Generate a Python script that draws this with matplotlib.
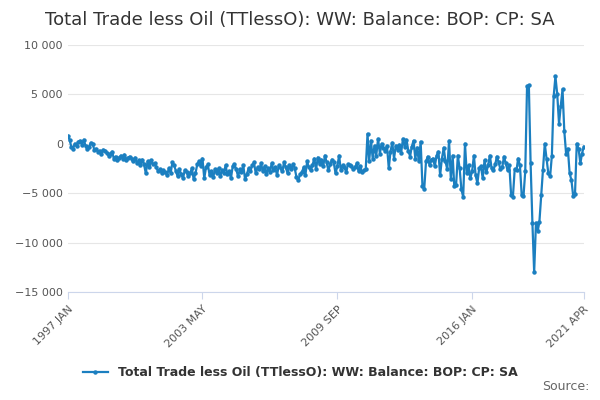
import matplotlib

matplotlib.use("Agg")
import matplotlib.pyplot as plt
import pandas as pd

plt.rcParams["font.family"] = ["DejaVu Sans"]

SERIES_NAME = "Total Trade less Oil (TTlessO): WW: Balance: BOP: CP: SA"

# monthly values, 1997 JAN .. 2021 APR
y1997 = [800, 400, -300, -500, 0, -200, 200, 300, -100, 400, -200, -500]
y1998 = [-300, 100, 0, -600, -500, -800, -700, -1000, -600, -700, -900, -1200]
y1999 = [-1000, -800, -1500, -1300, -1700, -1400, -1200, -1500, -1100, -1600, -1400, -1300]
y2000 = [-1500, -1800, -1400, -2000, -1700, -2200, -1600, -2100, -3000, -1800, -2400, -1700]
y2001 = [-2100, -2000, -2400, -2800, -2600, -3000, -2700, -2900, -3200, -2500, -3000, -1900]
y2002 = [-2200, -2800, -3300, -2600, -3100, -3500, -2700, -2900, -3300, -3000, -2500, -3600]
y2003 = [-3000, -2100, -1800, -2300, -1500, -3500, -2400, -2100, -3200, -2800, -3400, -2600]
y2004 = [-3000, -2500, -3300, -2700, -3000, -2200, -3100, -2800, -3500, -2300, -2100, -2600]
y2005 = [-3300, -2600, -2900, -2200, -3600, -3100, -2500, -2800, -2200, -1900, -3000, -2400]
y2006 = [-2600, -2000, -2800, -2300, -3100, -2500, -2900, -2000, -2700, -2400, -3200, -2200]
y2007 = [-2500, -2800, -1900, -2400, -3000, -2200, -2600, -2100, -2500, -3400, -3700, -3100]
y2008 = [-2900, -2400, -3200, -1800, -2400, -2700, -2200, -1500, -2600, -1400, -2100, -1600]
y2009 = [-2300, -1200, -1900, -2700, -2100, -1600, -1900, -3000, -2300, -1200, -2700, -2200]
y2010 = [-2400, -2900, -2100, -2200, -2300, -2600, -2400, -2000, -2800, -2300, -2900, -2700]
y2011 = [-2600, 1000, -1800, 300, -1500, -200, -1200, 500, -1000, 0, -400, -700]
y2012 = [-200, -2500, -800, 100, -1500, -200, -600, -100, -900, 500, -300, 400]
y2013 = [-700, -1300, -300, 300, -1500, -400, -1800, 200, -4300, -4600, -1800, -1300]
y2014 = [-2200, -1600, -1500, -2300, -1200, -800, -3200, -1500, -400, -1800, -2600, 300]
y2015 = [-3600, -1200, -4300, -4200, -1200, -2500, -4600, -5400, 0, -3000, -2200, -3500]
y2016 = [-2800, -1200, -3200, -4000, -2500, -2300, -3500, -1700, -2900, -2200, -1200, -2500]
y2017 = [-2700, -2100, -1300, -1900, -2600, -2400, -1300, -2000, -2700, -2200, -5200, -5400]
y2018 = [-2600, -2700, -1500, -2200, -5200, -5300, -2800, 5800, 5900, -2000, -8000, -13000]
y2019 = [-8000, -8800, -7900, -5200, -2700, 0, -1500, -3000, -3300, -1200, 4800, 6800]
y2020 = [5000, 2000, 3800, 5500, 1300, -1000, -500, -3000, -3700, -5300, -5100, 0]
y2021 = [-500, -2000, -1000, -300]

values = (y1997 + y1998 + y1999 + y2000 + y2001 + y2002 + y2003 + y2004 + y2005
          + y2006 + y2007 + y2008 + y2009 + y2010 + y2011 + y2012 + y2013
          + y2014 + y2015 + y2016 + y2017 + y2018 + y2019 + y2020 + y2021)
dates = pd.date_range("1997-01-01", periods=len(values), freq="MS")

tick_dates = ["1997-01-01", "2003-05-01", "2009-09-01", "2016-01-01", "2021-04-01"]
tick_labels = ["1997 JAN", "2003 MAY", "2009 SEP", "2016 JAN", "2021 APR"]
y_ticks = [-15000, -10000, -5000, 0, 5000, 10000]

color = "#1b7fc0"

fig = plt.figure(figsize=(6, 4), dpi=100)
ax = fig.add_axes([0.113, 0.27, 0.86, 0.618])
ax.plot(dates, values, color=color, linewidth=1.6, marker="o", markersize=2.2,
        label=SERIES_NAME)

ax.set_ylim(-15000, 10000)
ax.set_xlim(dates[0], dates[-1])
ax.set_yticks(y_ticks)
ax.set_yticklabels([f"{v:,}".replace(",", " ").replace("-", "−") for v in y_ticks])
ax.set_xticks(pd.to_datetime(tick_dates))
ax.set_xticklabels(tick_labels, rotation=45, ha="right", rotation_mode="anchor")
ax.tick_params(axis="both", labelsize=8, colors="#555555", length=0)
ax.tick_params(axis="x", length=5, color="#ccd6eb")
ax.grid(axis="y", color="#e6e6e6", linewidth=0.8)
for s in ["left", "right", "top"]:
    ax.spines[s].set_visible(False)
ax.spines["bottom"].set_color("#ccd6eb")

fig.text(0.075, 0.95, SERIES_NAME, fontsize=13, color="#333333", va="center")
fig.legend(loc="center", bbox_to_anchor=(0.5, 0.068), frameon=False,
           prop={"size": 9, "weight": "bold"}, labelcolor="#333333",
           handlelength=2.0)
fig.text(0.982, 0.025, "Source:", fontsize=9, color="#666666", ha="right")

fig.savefig("out.png", dpi=100)
